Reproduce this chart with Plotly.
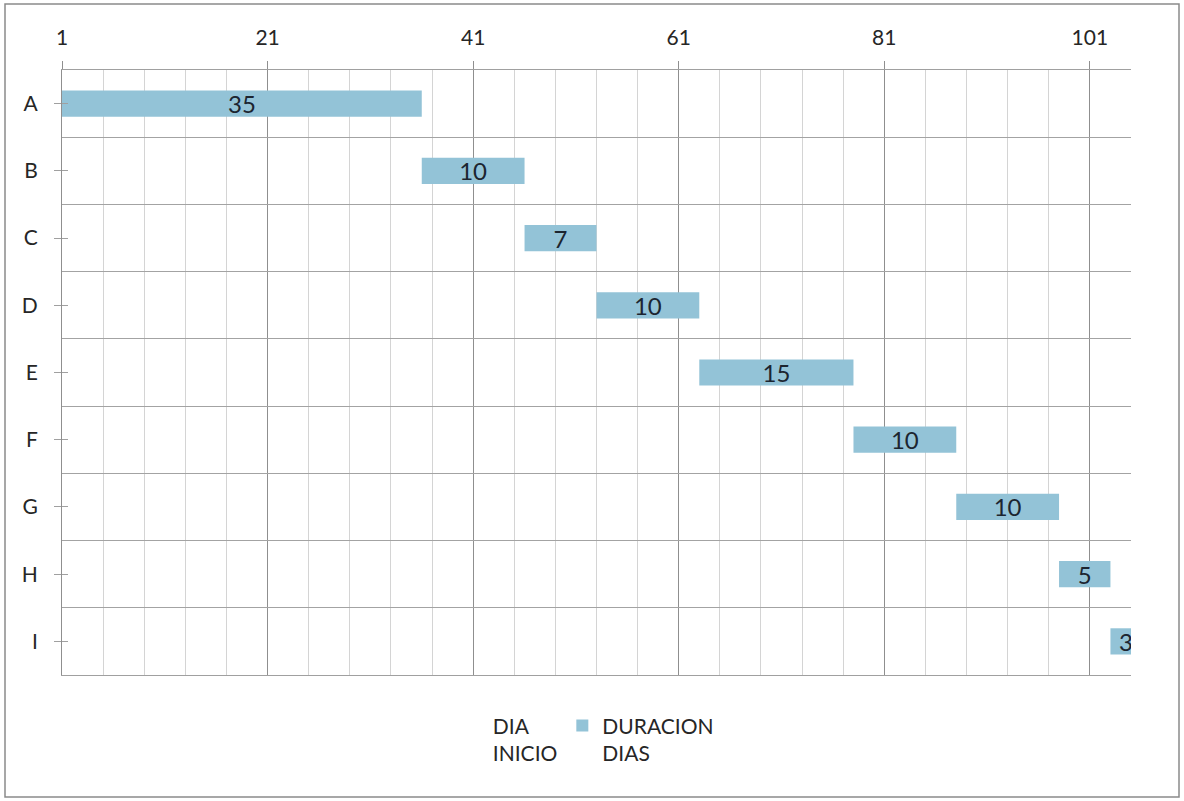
import plotly.graph_objects as go

tasks = ["A", "B", "C", "D", "E", "F", "G", "H", "I"]
dia_inicio = [1, 36, 46, 53, 63, 78, 88, 98, 103]
duracion_dias = [35, 10, 7, 10, 15, 10, 10, 5, 3]
x_ticks = [1, 21, 41, 61, 81, 101]

W, H = 1184, 801
ML, MR, MT, MB = 62, 53, 70, 126
PW, PH = W - ML - MR, H - MT - MB

font_family = "Lato, Open Sans, sans-serif"
txt_color = "#262626"

fig = go.Figure()
fig.add_trace(go.Bar(
    name="DIA<br>INICIO", y=tasks, x=dia_inicio, base=0, orientation="h",
    marker=dict(color="rgba(0,0,0,0)", line=dict(width=0)),
    hoverinfo="skip", showlegend=True, width=0.39,
))
fig.add_trace(go.Bar(
    name="DURACION<br>DIAS", y=tasks, x=duracion_dias, base=dia_inicio, orientation="h",
    marker=dict(color="#93C3D7", line=dict(width=0)),
    text=duracion_dias, textposition="inside", insidetextanchor="middle",
    textangle=0, constraintext="none",
    textfont=dict(size=24, color="#1c2530", family=font_family),
    width=0.39,
))
# invisible helpers for cross tick marks at category centres
fig.add_trace(go.Scatter(x=dia_inicio, y=tasks, yaxis="y2", mode="markers",
                         marker=dict(opacity=0), hoverinfo="skip", showlegend=False))
fig.add_trace(go.Scatter(x=dia_inicio, y=tasks, yaxis="y3", mode="markers",
                         marker=dict(opacity=0), hoverinfo="skip", showlegend=False))

fig.update_layout(
    width=W, height=H,
    margin=dict(l=ML, r=MR, t=MT, b=MB, pad=0),
    paper_bgcolor="white", plot_bgcolor="white",
    barmode="overlay", bargap=0.6,
    font=dict(family=font_family, size=21, color=txt_color),
    xaxis=dict(
        side="top", range=[1, 105], tickmode="array", tickvals=x_ticks,
        ticktext=[str(v) for v in x_ticks],
        showgrid=True, gridcolor="#8f8f8f", gridwidth=1,
        minor=dict(dtick=4, tick0=1, showgrid=True, gridcolor="#d4d4d4", gridwidth=1, ticks=""),
        ticks="outside", ticklen=8, tickcolor="#8f8f8f",
        showline=True, linecolor="#a0a0a0", linewidth=1, mirror=True,
        zeroline=False, tickfont=dict(size=21, color=txt_color),
        ticklabelstandoff=8,
    ),
    yaxis=dict(
        type="category", categoryorder="array", categoryarray=tasks,
        range=[8.5, -0.5], tickson="boundaries", ticks="",
        showgrid=True, gridcolor="#a3a3a3", gridwidth=1,
        showline=True, linecolor="#8f8f8f", linewidth=1,
        showticklabels=True, ticklabelstandoff=19,
        tickfont=dict(size=21, color=txt_color), zeroline=False,
    ),
    yaxis2=dict(
        type="category", categoryorder="array", categoryarray=tasks,
        range=[8.5, -0.5], overlaying="y", side="left",
        ticks="outside", ticklen=7, tickcolor="#a0a0a0",
        showticklabels=False, showgrid=False, showline=False, zeroline=False,
    ),
    yaxis3=dict(
        type="category", categoryorder="array", categoryarray=tasks,
        range=[8.5, -0.5], overlaying="y", side="left",
        ticks="inside", ticklen=6, tickcolor="#a0a0a0",
        showticklabels=False, showgrid=False, showline=False, zeroline=False,
    ),
    legend=dict(
        orientation="h", x=0.49, xanchor="center", y=-0.05, yanchor="top",
        valign="top",
        font=dict(size=21, color=txt_color, family=font_family),
        tracegroupgap=0, itemsizing="constant",
        bgcolor="rgba(0,0,0,0)",
    ),
    showlegend=True,
)

# outer chart border
fig.add_shape(
    type="rect", xref="paper", yref="paper", layer="above",
    x0=(5 - ML) / PW, x1=(1179 - ML) / PW,
    y0=(H - 797 - MB) / PH, y1=(H - 4 - MB) / PH,
    line=dict(color="#8a8a8a", width=1.5), fillcolor="rgba(0,0,0,0)",
)

fig.write_html("out.html")
